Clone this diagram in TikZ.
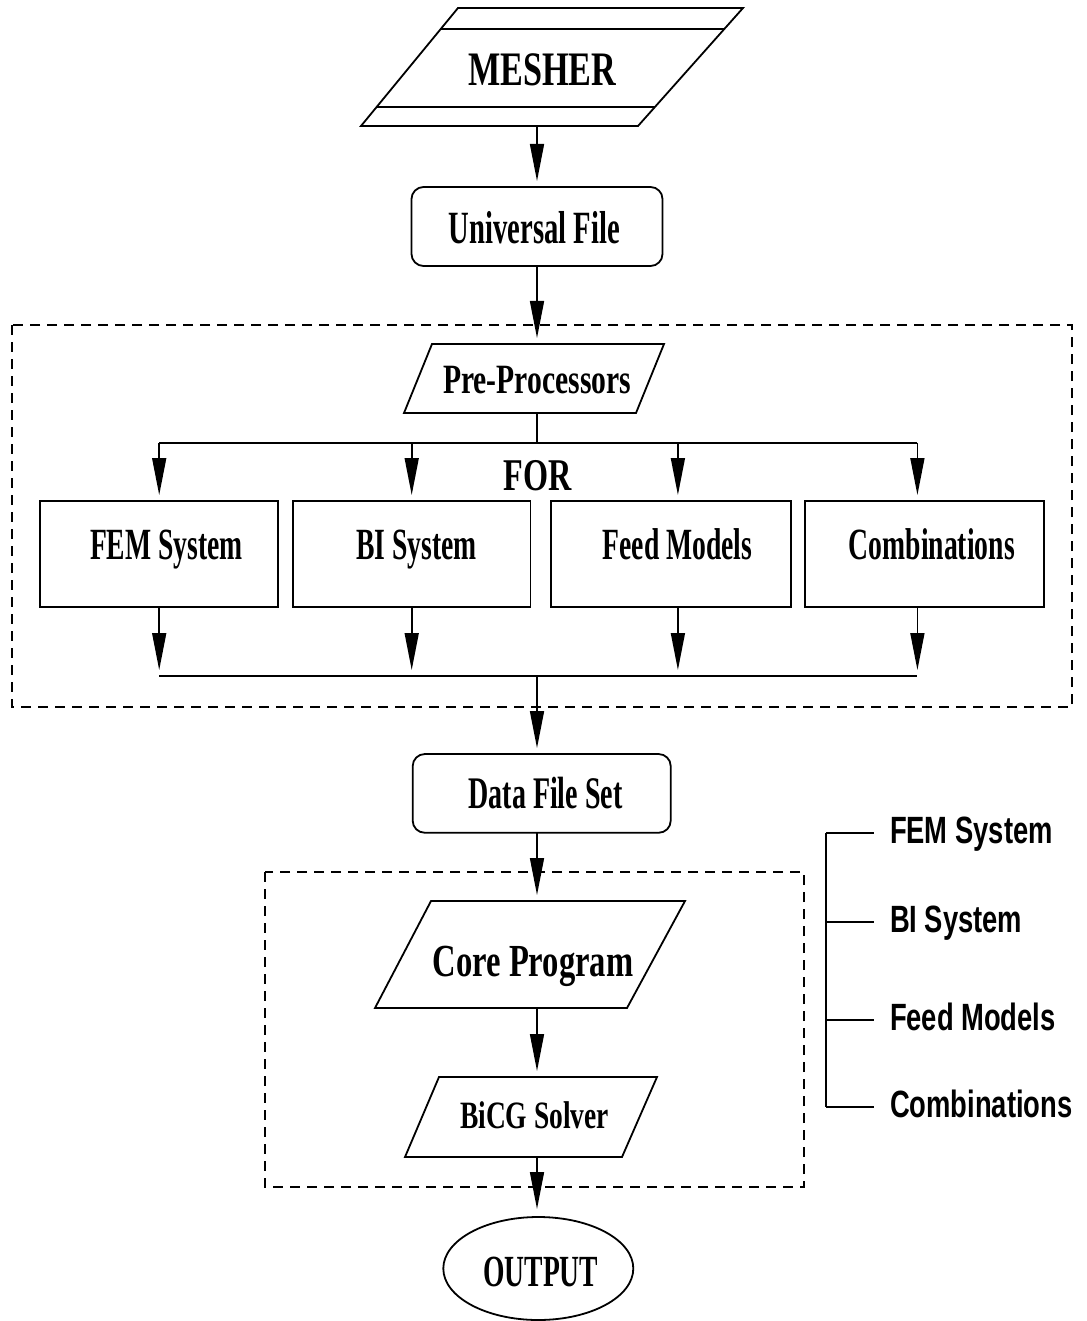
\documentclass[tikz,border=0pt]{standalone}
\usepackage{fontspec}
\setmainfont{Liberation Serif}
\newfontfamily\cserif[FakeStretch=0.62]{Liberation Serif}
\newfontfamily\cserifw[FakeStretch=0.71]{Liberation Serif}
\newfontfamily\csans[FakeStretch=0.72]{Liberation Sans}
\usetikzlibrary{arrows.meta,shapes.geometric}
\begin{document}
\begin{tikzpicture}[x=1pt,y=-1pt,
  every node/.style={inner sep=0pt, outer sep=0pt},
  shp/.style={draw, line width=1.8pt, line join=miter},
  rbox/.style={shp, rounded corners=12pt},
  dashbox/.style={draw, line width=1.6pt, dash pattern=on 10pt off 7pt},
  arr/.style={line width=1.6pt, -{Triangle[length=37pt,width=14pt]}, shorten >=6pt},
  ln/.style={line width=1.6pt},
  serifl/.style={font=\cserif\bfseries\fontsize{#1}{#1}\selectfont, anchor=base},
  serifw/.style={font=\cserifw\bfseries\fontsize{#1}{#1}\selectfont, anchor=base},
  legl/.style={font=\csans\bfseries\fontsize{38}{38}\selectfont, anchor=base west},
]
\useasboundingbox (0,0) rectangle (1086,1321);

% dashed groups
\draw[dashbox] (12,325) rectangle (1072,707);
\draw[dashbox] (265,872) rectangle (804,1187);

% MESHER
\draw[shp] (361,126) -- (458,8) -- (743,8) -- (638,126) -- cycle;
\draw[ln] (440.7,29) -- (724.3,29);
\draw[ln] (376.6,107) -- (654.9,107);
\node[serifw=48.1] (meshT) at (542,86) {MESHER};
\coordinate (meshB) at (537,126);

% Universal File
\node[rbox, minimum width=251pt, minimum height=79pt] (uni) at (537,226.5) {};
\node[serifl=46.2] (uniT) at (534.5,244) {Universal File};

% Pre-Processors
\draw[shp] (404,413) -- (432,344) -- (664,344) -- (636,413) -- cycle;
\node[serifw=41.7] (preT0) at (537,393.3) {Pre-Processors};
\coordinate (preT) at (537,344);
\coordinate (preB) at (537,413);

% FOR
\node[serifw=45.4] (forT) at (538,490) {FOR};

% four boxes
\node[shp, minimum width=238pt, minimum height=106pt] (fem) at (159.2,554) {};
\node[shp, minimum width=237.5pt, minimum height=106pt] (bi) at (411.7,554) {};
\node[shp, minimum width=240.2pt, minimum height=106pt] (feed) at (670.8,554) {};
\node[shp, minimum width=239.5pt, minimum height=106pt] (comb) at (924.6,554) {};
\node[serifl=44.6] (femT) at (166.5,559.3) {FEM System};
\node[serifl=44.6] (biT) at (416.6,559.3) {BI System};
\node[serifl=44.6] (feedT) at (677.5,559.3) {Feed Models};
\node[serifl=44.6] (combT) at (931.8,559.3) {Combinations};

% Data File Set
\node[rbox, minimum width=258pt, minimum height=78.7pt] (dfs) at (541.7,793.4) {};
\node[serifl=45.2] (dfsT) at (545.5,808.3) {Data File Set};

% Core Program
\draw[shp] (375,1008) -- (431,901) -- (685,901) -- (627,1008) -- cycle;
\node[serifw=45.9] (coreT0) at (533,976.7) {Core Program};
\coordinate (coreT) at (537,901);
\coordinate (coreB) at (537,1008);

% BiCG Solver
\draw[shp] (405,1157) -- (439,1077) -- (657,1077) -- (622,1157) -- cycle;
\node[serifw=38.7] (bicgT0) at (534.6,1128.3) {BiCG Solver};
\coordinate (bicgT) at (537,1077);
\coordinate (bicgB) at (537,1157);

% OUTPUT
\node[shp, ellipse, minimum width=190pt, minimum height=103pt] (out) at (538.3,1268.5) {};
\node[serifl=44.5] (outT) at (540.8,1286.7) {OUTPUT};

% connectors
\draw[arr] (meshB) -- (meshB |- uni.north);
\draw[arr] (uni.south) -- (preT);
\coordinate (split) at (537,442.7);
\draw[ln] (preB) -- (split);
\coordinate (s1) at (159.2,442.7);
\coordinate (s2) at (411.7,442.7);
\coordinate (s3) at (677.9,442.7);
\coordinate (s4) at (917.4,442.7);
\draw[ln] (s1) -- (s4);
\draw[arr] (s1) -- (s1 |- fem.north);
\draw[arr] (s2) -- (s2 |- bi.north);
\draw[arr] (s3) -- (s3 |- feed.north);
\draw[arr] (s4) -- (s4 |- comb.north);
\coordinate (b1) at (159.2,676);
\coordinate (b2) at (411.7,676);
\coordinate (b3) at (677.9,676);
\coordinate (b4) at (917.4,676);
\coordinate (jB) at (537,676);
\draw[arr] (b1 |- fem.south) -- (b1);
\draw[arr] (b2 |- bi.south) -- (b2);
\draw[arr] (b3 |- feed.south) -- (b3);
\draw[arr] (b4 |- comb.south) -- (b4);
\draw[ln] (b1) -- (b4);
\draw[arr] (jB) -- (jB |- dfs.north);
\draw[arr] (jB |- dfs.south) -- (coreT);
\draw[arr] (coreB) -- (bicgT);
\draw[arr, shorten >=8pt] (bicgB) -- (bicgB |- out.north);

% legend
\coordinate (lt) at (826,833);
\coordinate (lb) at (826,1107);
\draw[ln] (lt) -- (lb);
\node[legl] (l1) at (890,843.3) {FEM System};
\node[legl] (l2) at (890,932) {BI System};
\node[legl] (l3) at (890,1030.3) {Feed Models};
\node[legl] (l4) at (890,1117.3) {Combinations};
\draw[ln] (lt) -- (874,833);
\draw[ln] (826,921.7) -- (874,921.7);
\draw[ln] (826,1020) -- (874,1020);
\draw[ln] (lb) -- (874,1107);
\end{tikzpicture}
\end{document}
